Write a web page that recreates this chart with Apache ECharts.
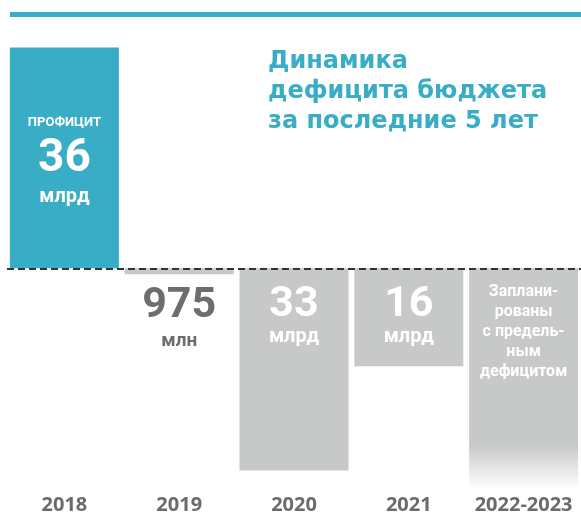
<!DOCTYPE html>
<html lang="ru">
<head>
    <meta charset="UTF-8">
    <title>Динамика дефицита бюджета</title>
    <script src="https://cdn.jsdelivr.net/npm/echarts@6/dist/echarts.min.js"></script>
    <style>
        html, body { margin: 0; padding: 0; background: #fff; }
    </style>
</head>
<body>
<div id="chart" style="width: 581px;height:521px;"></div>
<script>
    // years and balance in bn rub (plus = surplus, minus = deficit)
    const years = ['2018', '2019', '2020', '2021', '2022-2023'];
    const balance = [36, -0.975, -33, -16, -36];
    const bigText = ['36', '975', '33', '16', ''];
    const unitText = ['млрд', 'млн', 'млрд', 'млрд', ''];
    const planText = 'Заплани-\nрованы\nс предель-\nным\nдефицитом';

    const teal = '#38adc5';
    const grey = '#c7c8c8';
    const narrow = 'Roboto, sans-serif';

    let chart = echarts.init(document.getElementById('chart'));

    const barData = balance.map((v, i) => {
        let item = {value: v};
        if (i === 0) {
            item.itemStyle = {color: teal};
            item.label = {
                position: 'inside',
                offset: [0, 2],
                formatter: '{p|ПРОФИЦИТ}\n{b|' + bigText[i] + '}\n{u|' + unitText[i] + '}'
            };
        } else if (i === 1) {
            item.label = {
                position: 'bottom',
                distance: 11,
                color: '#6d6d6d',
                formatter: '{n|' + bigText[i] + '}\n{m|' + unitText[i] + '}'
            };
        } else if (i === 4) {
            item.itemStyle = {
                color: new echarts.graphic.LinearGradient(0, 0, 0, 1, [
                    {offset: 0, color: grey},
                    {offset: 0.8, color: grey},
                    {offset: 1, color: '#ffffff'}
                ])
            };
            item.label = {
                position: 'insideTop',
                distance: 14,
                formatter: '{t|' + planText.split('\n').join('}\n{t|') + '}'
            };
        } else {
            item.label = {
                position: 'insideTop',
                distance: 16,
                formatter: '{n|' + bigText[i] + '}\n{u|' + unitText[i] + '}'
            };
        }
        return item;
    });

    chart.setOption({
        animation: false,
        title: {
            text: 'Динамика\nдефицита бюджета\nза последние 5 лет',
            left: 263,
            top: 42,
            textStyle: {
                color: teal,
                fontFamily: '"DejaVu Sans", sans-serif',
                fontWeight: 'bold',
                fontSize: 24,
                lineHeight: 30
            }
        },
        graphic: [{
            type: 'rect',
            shape: {x: 10, y: 12, width: 571, height: 5},
            style: {fill: teal}
        }],
        grid: {
            left: 7,
            top: 23,
            width: 576,
            height: 466
        },
        xAxis: {
            type: 'category',
            data: years,
            axisLine: {show: false},
            axisTick: {show: false},
            axisLabel: {
                interval: 0,
                margin: 6,
                color: '#6b6b6b',
                fontFamily: '"Open Sans", sans-serif',
                fontWeight: 'bold',
                fontSize: 20
            }
        },
        yAxis: {
            type: 'value',
            min: -36,
            max: 40,
            show: false
        },
        series: [{
            type: 'bar',
            barWidth: 109,
            data: barData,
            itemStyle: {color: grey},
            label: {
                show: true,
                color: '#fff',
                fontFamily: narrow,
                fontWeight: 'bold',
                align: 'center',
                rich: {
                    p: {fontFamily: narrow, fontWeight: 'bold', fontSize: 13, lineHeight: 22},
                    b: {fontFamily: narrow, fontWeight: 'bold', fontSize: 46, lineHeight: 52},
                    n: {fontFamily: narrow, fontWeight: 'bold', fontSize: 43, lineHeight: 42},
                    u: {fontFamily: narrow, fontWeight: 'bold', fontSize: 20, lineHeight: 22},
                    m: {fontFamily: narrow, fontWeight: 'bold', fontSize: 19, lineHeight: 28},
                    t: {fontFamily: narrow, fontWeight: 'bold', fontSize: 16, lineHeight: 20}
                }
            },
            markLine: {
                silent: true,
                symbol: 'none',
                label: {show: false},
                lineStyle: {color: '#333', width: 2, type: [7, 4]},
                data: [{yAxis: 0}]
            }
        }]
    });
</script>
</body>
</html>
